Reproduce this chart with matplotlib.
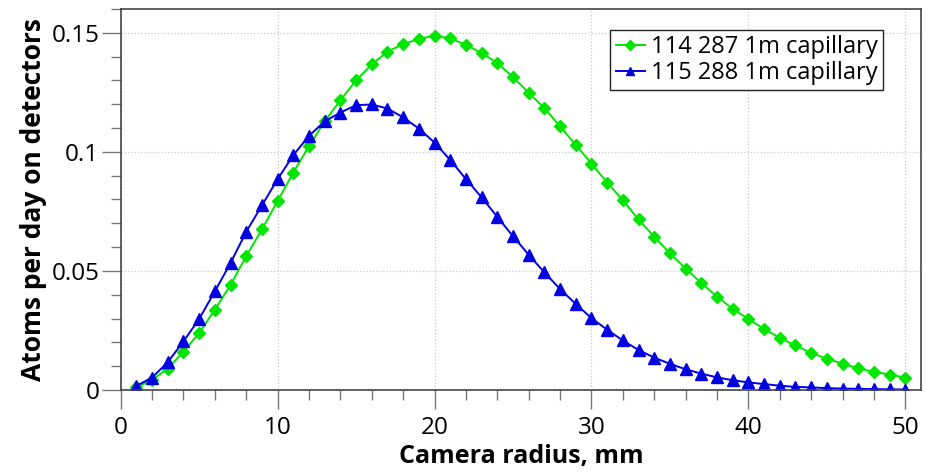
import numpy as np
import matplotlib
matplotlib.use("Agg")
import matplotlib.pyplot as plt
from matplotlib.ticker import MultipleLocator

plt.rcParams['font.family'] = ['Open Sans', 'DejaVu Sans']

# camera radius (mm)
radius = list(range(1, 51))

# atoms per day, 114 287 1m capillary (green diamonds)
green = [0.0011, 0.0042, 0.0090, 0.0161, 0.0239, 0.0337, 0.0441, 0.0562, 0.0674, 0.0793,
         0.0913, 0.1024, 0.1128, 0.1217, 0.1300, 0.1367, 0.1421, 0.1452, 0.1474, 0.1488,
         0.1476, 0.1450, 0.1415, 0.1373, 0.1314, 0.1248, 0.1184, 0.1107, 0.1029, 0.0951,
         0.0871, 0.0797, 0.0716, 0.0644, 0.0574, 0.0510, 0.0449, 0.0392, 0.0341, 0.0298,
         0.0256, 0.0219, 0.0187, 0.0156, 0.0131, 0.0111, 0.0091, 0.0076, 0.0065, 0.0052]

# atoms per day, 115 288 1m capillary (blue triangles)
blue = [0.0017, 0.0052, 0.0117, 0.0204, 0.0298, 0.0414, 0.0533, 0.0664, 0.0775, 0.0885,
        0.0986, 0.1067, 0.1128, 0.1165, 0.1196, 0.1199, 0.1182, 0.1145, 0.1098, 0.1039,
        0.0966, 0.0886, 0.0809, 0.0727, 0.0646, 0.0568, 0.0494, 0.0424, 0.0361, 0.0302,
        0.0253, 0.0208, 0.0168, 0.0136, 0.0110, 0.0087, 0.0069, 0.0053, 0.0041, 0.0032,
        0.0025, 0.0018, 0.0013, 0.0011, 0.0008, 0.0006, 0.0005, 0.0004, 0.0003, 0.0002]

labels = ['114 287 1m capillary', '115 288 1m capillary']

fig = plt.figure(figsize=(9.26, 4.72), dpi=100)
ax = fig.add_axes([0.1303, 0.1737, 0.8643, 0.8073])

ax.plot(radius, green, color='#00e600', lw=1.4, marker='D', ms=5.8, label=labels[0])
ax.plot(radius, blue, color='#0000e0', lw=1.4, marker='^', ms=8, label=labels[1])

ax.set_xlim(0, 51)
ax.set_ylim(0, 0.16)
ax.xaxis.set_major_locator(MultipleLocator(10))
ax.xaxis.set_minor_locator(MultipleLocator(2))
ax.yaxis.set_minor_locator(MultipleLocator(0.01))
ax.set_yticks([0, 0.05, 0.1, 0.15])
ax.set_yticklabels(['0', '0.05', '0.1', '0.15'])

ax.grid(True, which='major', color='#c8c8c8', ls=':', lw=0.9)
ax.tick_params(which='major', direction='out', length=13.5, width=1, color='#777777',
               labelsize=17.5)
ax.tick_params(which='minor', direction='out', length=7, width=1, color='#777777')
ax.tick_params(axis='y', which='major', pad=2)
ax.tick_params(axis='x', which='major', pad=5)
for s in ax.spines.values():
    s.set_color('#444444')
    s.set_linewidth(1.2)

ax.set_xlabel('Camera radius, mm', fontsize=18, fontweight='bold', labelpad=3)
ax.set_ylabel('Atoms per day on detectors', fontsize=19, fontweight='bold', labelpad=3)

leg = ax.legend(loc='upper right', bbox_to_anchor=(0.9525, 0.945), borderaxespad=0,
                fontsize=17, numpoints=1, fancybox=False, framealpha=1,
                handlelength=1.25, handletextpad=0.25, borderpad=0.22, labelspacing=0.08,
                markerscale=0.8)
leg.get_frame().set_edgecolor('#222222')
leg.get_frame().set_linewidth(1.0)

fig.savefig('out.png', dpi=100)
